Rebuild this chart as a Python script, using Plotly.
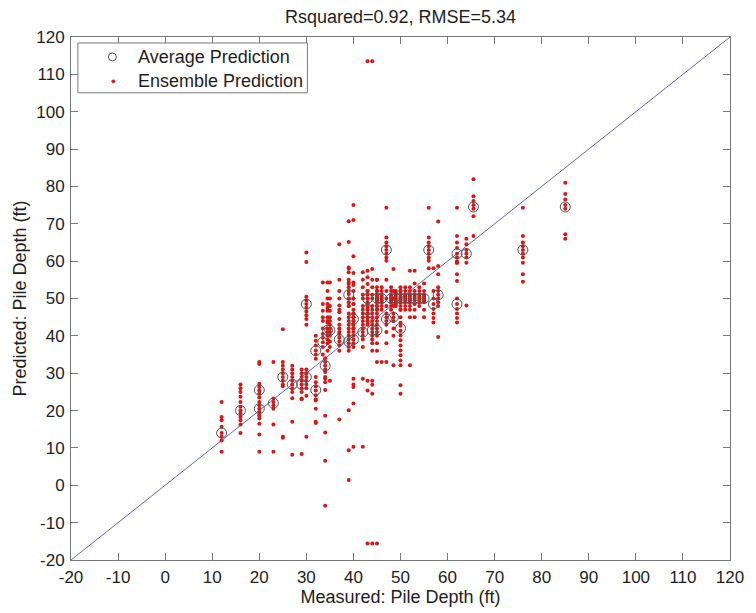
import plotly.graph_objects as go

# measured pile depth for each case (ft)
measured = [12, 16, 20, 20, 23, 25, 27, 29, 30, 30, 32, 32, 33.5, 34, 34.5, 35, 37, 39, 40,
            39, 40, 42, 43, 43, 44, 45, 45, 46, 47, 47, 48, 48.5, 49, 50, 50, 51, 52, 53, 54, 55, 56,
            57, 58, 62, 62, 64, 65.5, 76, 85]

# average prediction for each case (ft)
average_pred = [14, 20, 25.5, 20.5, 22, 29, 27, 27, 29, 48.5, 25.5, 36, 38.3, 32, 41.5, 41.5, 39, 38.5, 39,
                51, 44.5, 41, 50, 47, 41.5, 41.5, 50, 50, 44.5, 63, 50, 45, 50, 42, 50, 50, 50, 50, 50, 50, 63,
                48.5, 51, 62, 48.5, 62, 74.5, 63, 74.5]

# ensemble predictions for each case (ft)
ensemble_pred = [
    [22.3, 18.3, 17.4, 15.7, 14, 13, 12, 9],
    [27, 26, 25, 23.7, 22.3, 21, 20, 19.2, 18.3, 17.4, 16.3, 14],
    [33, 32.5, 27.2, 26.3, 25.4, 24.5, 23.5, 22.3],
    [21.4, 20.5, 19.6, 18.7, 17.9, 16.5, 13.6, 9],
    [33, 23.2, 22.3, 21.4, 20.5, 16.3, 9],
    [33, 32, 31, 30, 29, 28, 27, 26.5, 13, 12.7, 41.8],
    [32, 31, 30, 29, 28, 27, 26, 25, 23.3, 17, 8.2],
    [31, 30, 29, 28, 27, 26, 25, 23.2, 23, 8.4],
    [31, 30, 29, 28, 27, 26, 24, 13],
    [62.3, 59.8, 50.5, 49.5, 48.5, 47.5, 46.5, 45.5, 44.5, 43],
    [29, 27.6, 26.5, 25.4, 24.1, 23, 22.7, 20.5, 17, 16.7],
    [40, 38.7, 37.4, 36.1, 35, 33.9],
    [54.3, 48.5, 46.7, 45, 44, 42, 40.5, 39.5, 38.3, 37, 35],
    [34, 33, 32, 31, 30.3, 29, 28.5, 27.6, 25.5, 18.6, 14.1, 6.6, -5.5],
    [54.3, 52, 50, 48.5, 47.5, 46.7, 45, 44, 43.5, 42, 41, 40, 39, 38, 36],
    [54.3, 50, 48, 46.7, 45, 44, 43, 42, 41, 40, 38.5, 37, 28],
    [64.5, 55, 52, 50, 48.1, 47, 46.3, 44.5, 43, 42, 41, 40.5, 39.5, 38.5, 37.5, 36, 17.6],
    [70.7, 65.1, 58.3, 57, 54.3, 53.9, 50, 48, 46, 45, 44, 43, 42, 41, 40, 39, 38, 37, 36, 20.1, 9.4, 1.4],
    [75, 71, 61.3, 56.8, 54.3, 53.6, 52, 50, 48.5, 46, 45, 44, 43, 42, 41, 40, 39, 38, 37, 28.5, 26.3, 21.9, 10.3],
    [58, 55, 53, 52, 51.2, 50, 49, 48],
    [50, 48.5, 47, 46, 45, 44, 43, 42, 27],
    [57, 55, 53, 51, 50, 48, 47, 46, 45, 44, 43, 42, 41, 40, 39, 37, 28.5, 10.3],
    [57.4, 55.7, 53.9, 52, 51, 50, 49, 48, 47, 46, 45, 44, 43, 113.5, -15.6, 28],
    [52, 50, 48.5, 47.5, 47, 46, 45, 44, 25.4],
    [57.9, 55, 53, 51, 50, 48, 47, 46, 45, 44, 43, 42, 41, 40, 39, 38, 36, 113.5, -15.6, 28, 26.9, 24.5],
    [55, 52, 50, 49, 48, 47, 46, 45, 44, 43, 42, 41, 40, 38, 36, 33, -15.6],
    [55, 53, 52, 51, 50.5, 50, 49.5, 49, 48, 47],
    [53, 52, 51, 50.5, 50, 49.5, 49, 48, 47, 33],
    [55, 52, 50, 48, 46, 45, 44, 43, 41, 38, 33],
    [74.3, 66.3, 65, 64, 63, 62, 61, 60.1],
    [53, 52, 51, 50.5, 50, 49.5, 49, 48, 47],
    [57.9, 52, 50, 48, 46, 45, 44, 42, 40, 32.1],
    [52, 51.5, 51, 50.5, 50, 49.5, 49, 48.5, 48],
    [52, 50, 47, 45, 43.5, 42.7, 41.4, 40.1, 38.8, 37.4, 36.1, 34.8, 33.4, 32.1, 26.8, 24.5],
    [53, 52, 51, 50.5, 50, 49.5, 49, 48, 47],
    [53, 52, 51, 50.5, 50, 49.5, 49, 48, 47],
    [57.4, 53, 52, 51, 50.5, 50, 49.5, 49, 48, 47, 45, 32.1],
    [57.4, 54, 52, 51, 50.5, 50, 49.5, 48.5, 47, 45],
    [53, 52, 51, 50.5, 50, 49.5, 49, 48],
    [54, 52, 51, 50.5, 50, 49.5, 49, 47, 45],
    [74.3, 66.3, 65, 64, 63, 62, 61, 60.1, 58.1],
    [58.1, 52, 50, 48.5, 47.2, 46, 44.8, 43.6],
    [70.6, 58.7, 56.5, 53, 52, 51, 50, 49, 48, 39.7],
    [74.3, 66.7, 65, 63.5, 62, 61, 60, 59.6, 56.5, 54.7],
    [59.6, 50, 48.5, 47.2, 46, 44.8, 43.6],
    [66, 64.5, 63, 62, 61, 59.6, 48.1],
    [81.9, 77.4, 76.1, 75, 74, 72, 66.7],
    [74.3, 66.7, 65, 64, 63, 62, 61, 59.6, 56.5, 54.5],
    [81, 78, 76.5, 75, 74, 67.2, 66],
]

axis_ticks = list(range(-20, 121, 10))
axis_ticktext = ["-20", "-10", "0", "10", "20", "30", "40", "50", "60", "70", "80", "90", "100", "110", "120"]
axis_range = [-20, 120]
legend_labels = ["Average Prediction", "Ensemble Prediction"]

ens_x, ens_y = [], []
for m, preds in zip(measured, ensemble_pred):
    for p in preds:
        ens_x.append(m)
        ens_y.append(p)

FONT = "Liberation Sans, Arial, sans-serif"
TXT = "#1e1e1e"
GRAY = "rgb(120,120,120)"
CIRCLE = "rgb(85,85,85)"
RED = "rgb(220,20,20)"

fig = go.Figure()

fig.add_trace(go.Scatter(
    x=axis_range, y=axis_range, mode="lines",
    line=dict(color="rgb(100,100,190)", width=1),
    showlegend=False, hoverinfo="skip"))

fig.add_trace(go.Scatter(
    x=ens_x, y=ens_y, mode="markers", name=legend_labels[1], showlegend=False,
    marker=dict(color=RED, size=4, line=dict(width=0))))

fig.add_trace(go.Scatter(
    x=measured, y=average_pred, mode="markers", name=legend_labels[0], showlegend=False,
    marker=dict(symbol="circle-open", color=CIRCLE, size=10, line=dict(width=1))))

axis_common = dict(
    range=axis_range, tickvals=axis_ticks, ticktext=axis_ticktext, ticks="inside", ticklen=7,
    tickcolor=GRAY, showline=True, linecolor=GRAY,
    linewidth=1, mirror="ticks", showgrid=False, zeroline=False,
    tickfont=dict(family=FONT, size=17, color=TXT),
)

# page is offset by the 8px body margin: figure is 748x605 drawn at (8,8)
W, H = 748, 605
ML, MR, MT, MB = 62, 17, 29, 51
PW, PH = W - ML - MR, H - MT - MB


def px_x(page_x):
    return (page_x - 8 - ML) / PW


def px_y(page_y):
    return 1 - (page_y - 8 - MT) / PH


shapes = [
    dict(type="rect", xref="paper", yref="paper",
         x0=px_x(77), x1=px_x(310), y0=px_y(93), y1=px_y(43),
         line=dict(color=GRAY, width=1), fillcolor="white", layer="above"),
    dict(type="circle", xref="paper", yref="paper", xsizemode="pixel", ysizemode="pixel",
         xanchor=px_x(112), yanchor=px_y(57), x0=-4, x1=4, y0=-4, y1=4,
         line=dict(color=CIRCLE, width=1), layer="above"),
    dict(type="circle", xref="paper", yref="paper", xsizemode="pixel", ysizemode="pixel",
         xanchor=px_x(113), yanchor=px_y(81.5), x0=-1.7, x1=1.7, y0=-1.7, y1=1.7,
         line=dict(color=RED, width=0.5), fillcolor=RED, layer="above"),
]

annotations = [
    dict(text=legend_labels[0], xref="paper", yref="paper", x=px_x(136), y=px_y(57),
         xanchor="left", yanchor="middle", showarrow=False,
         font=dict(family=FONT, size=18, color=TXT)),
    dict(text=legend_labels[1], xref="paper", yref="paper", x=px_x(136), y=px_y(81.5),
         xanchor="left", yanchor="middle", showarrow=False,
         font=dict(family=FONT, size=18, color=TXT)),
]

fig.update_layout(
    width=W, height=H,
    margin=dict(l=ML, r=MR, t=MT, b=MB),
    paper_bgcolor="white", plot_bgcolor="white",
    showlegend=False,
    title=dict(text="Rsquared=0.92, RMSE=5.34", x=0.5, xref="paper", xanchor="center",
               y=1 - 9 / H, yanchor="middle",
               font=dict(family=FONT, size=18, color=TXT)),
    xaxis=dict(**axis_common, ticklabelstandoff=2,
               title=dict(text="Measured: Pile Depth (ft)",
                          font=dict(family=FONT, size=18, color=TXT), standoff=1)),
    yaxis=dict(**axis_common, ticklabelstandoff=2,
               title=dict(text="Predicted: Pile Depth (ft)",
                          font=dict(family=FONT, size=18, color=TXT), standoff=4)),
    shapes=shapes, annotations=annotations,
)

fig.write_html("out.html")
